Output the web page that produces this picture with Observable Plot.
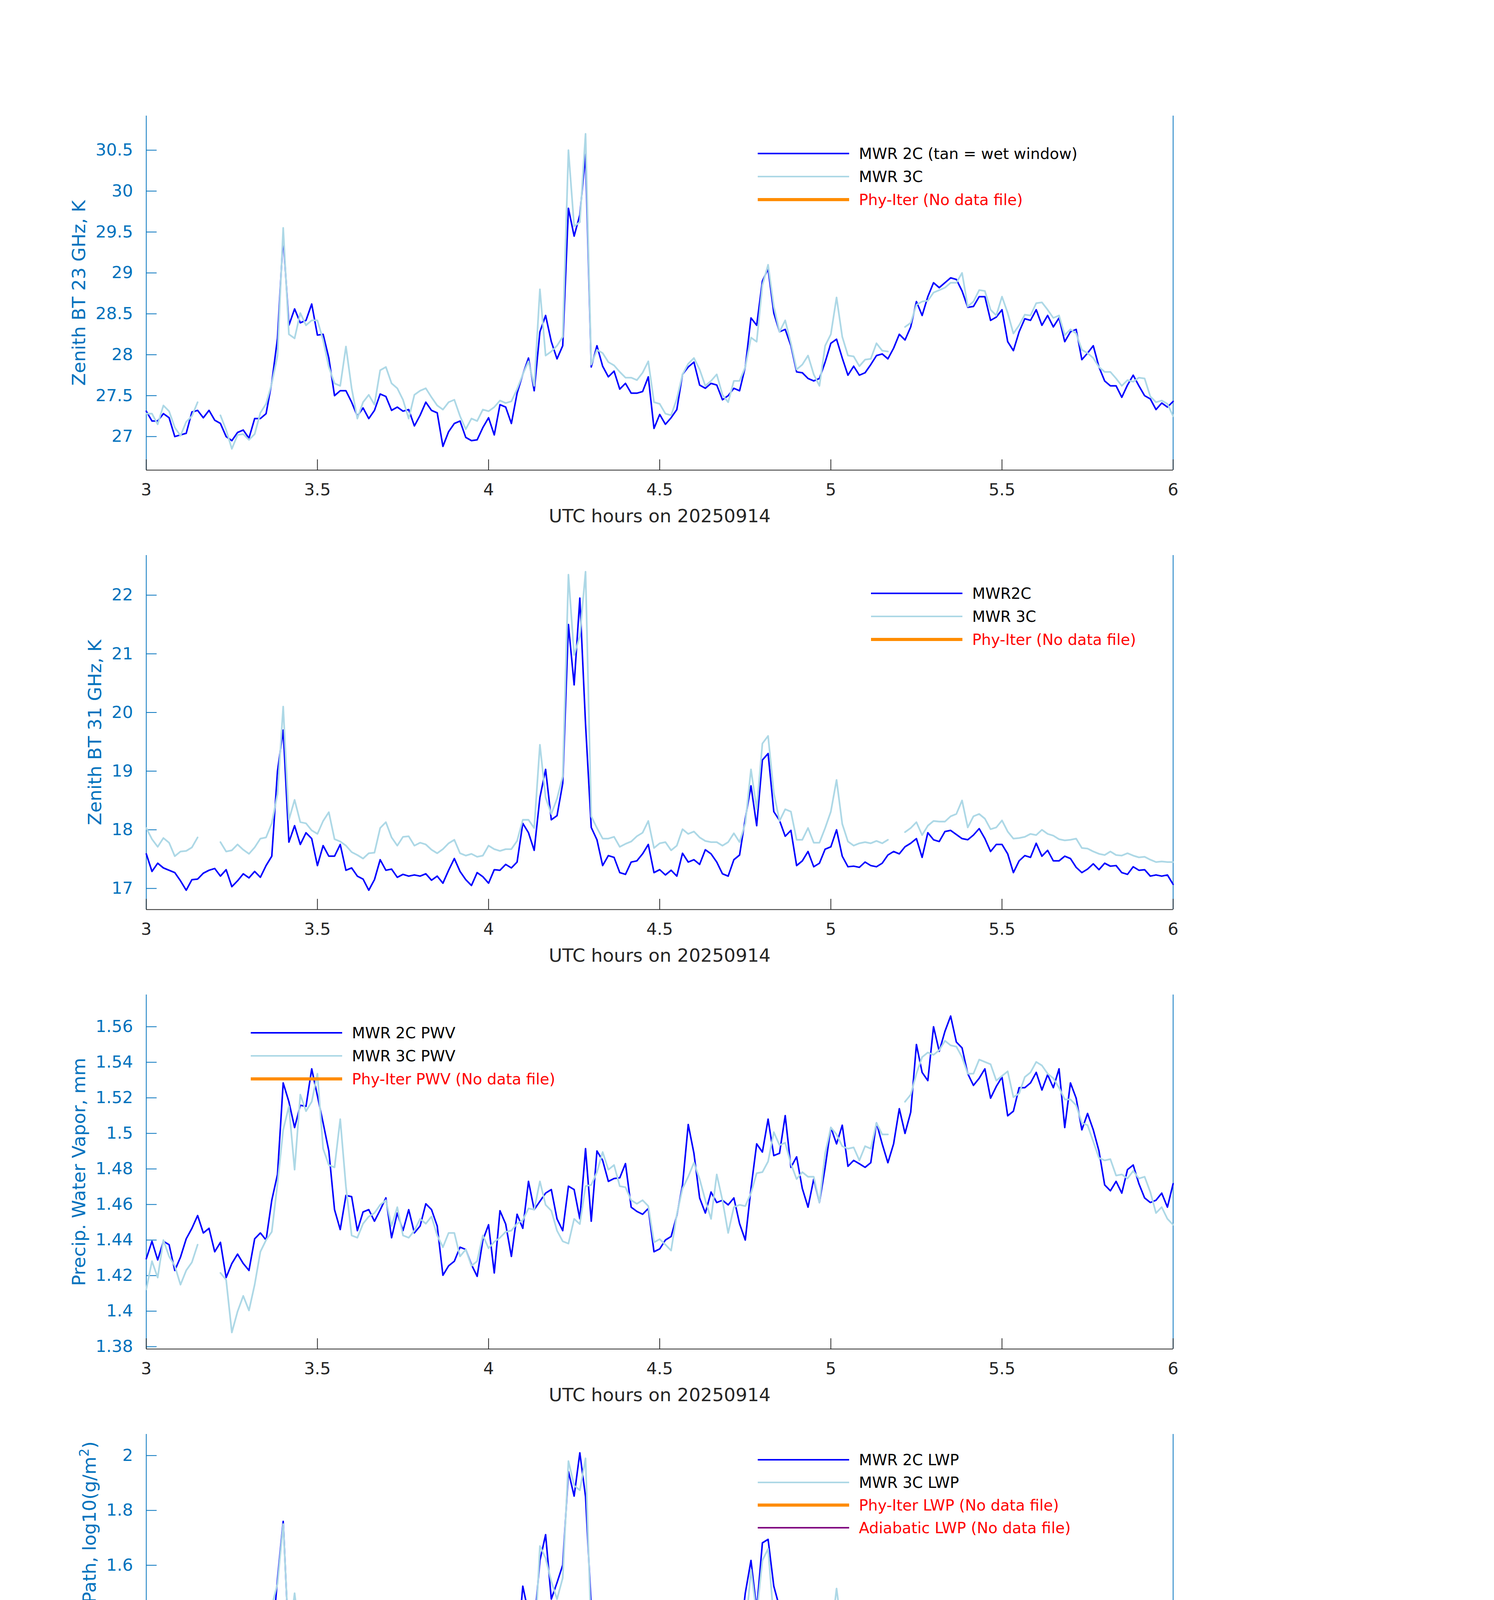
<!DOCTYPE html>
<html>
<head>
<meta charset="utf-8">
<script src="https://cdn.jsdelivr.net/npm/d3@7"></script>
<script src="https://cdn.jsdelivr.net/npm/@observablehq/plot@0.6"></script>
<style>
html, body { margin: 0; padding: 0; background: #ffffff; }
#chart { width: 3825px; background: #ffffff; }
#chart svg { display: block; }
</style>
</head>
<body>
<div id="chart"></div>
<script>
// ---------------- DATA (1-minute samples from 3.00 to 6.00 UTC hours) ----------------
const hourTicks = [3, 3.5, 4, 4.5, 5, 5.5, 6];
const xLabel = "UTC hours on 20250914";

const bt23_2c = [27.31,27.19,27.19,27.28,27.23,27.0,27.02,27.04,27.3,27.32,
27.23,27.32,27.2,27.16,27.0,26.95,27.05,27.08,26.98,27.22,
27.22,27.28,27.66,28.2,29.45,28.36,28.56,28.39,28.42,28.62,
28.24,28.25,27.96,27.5,27.56,27.56,27.42,27.25,27.35,27.22,
27.32,27.52,27.49,27.32,27.36,27.31,27.33,27.13,27.26,27.42,
27.32,27.29,26.88,27.06,27.16,27.19,26.99,26.95,26.96,27.11,
27.23,27.02,27.39,27.36,27.16,27.53,27.76,27.96,27.56,28.28,
28.48,28.16,27.95,28.11,29.79,29.45,29.71,30.45,27.85,28.11,
27.86,27.73,27.8,27.58,27.65,27.53,27.53,27.55,27.73,27.1,
27.27,27.15,27.23,27.33,27.76,27.85,27.91,27.63,27.59,27.65,
27.63,27.45,27.5,27.59,27.56,27.85,28.45,28.36,28.9,29.05,
28.51,28.28,28.31,28.11,27.79,27.78,27.71,27.68,27.71,27.91,
28.14,28.19,27.96,27.75,27.86,27.75,27.78,27.88,27.99,28.01,
27.95,28.08,28.25,28.18,28.34,28.65,28.48,28.71,28.88,28.82,
28.88,28.94,28.92,28.78,28.58,28.59,28.71,28.71,28.42,28.46,
28.55,28.16,28.05,28.28,28.44,28.42,28.55,28.36,28.48,28.34,
28.45,28.16,28.28,28.31,27.94,28.02,28.11,27.85,27.68,27.62,
27.62,27.48,27.63,27.75,27.62,27.5,27.46,27.33,27.41,27.36,27.43];

const bt23_3c = [27.28,27.28,27.15,27.38,27.31,27.11,27.01,27.18,27.25,27.42,
NaN,NaN,NaN,27.26,27.08,26.85,27.02,27.03,26.96,27.03,
27.29,27.4,27.65,27.99,29.55,28.25,28.2,28.51,28.36,28.42,
28.42,28.18,27.85,27.65,27.62,28.1,27.59,27.22,27.42,27.51,
27.39,27.81,27.85,27.65,27.59,27.45,27.22,27.51,27.56,27.59,
27.48,27.38,27.33,27.42,27.45,27.25,27.09,27.22,27.19,27.33,
27.31,27.36,27.44,27.41,27.43,27.58,27.76,27.92,27.62,28.8,
27.99,28.04,28.11,28.22,30.5,29.57,29.62,30.7,27.88,28.06,
28.02,27.91,27.87,27.79,27.72,27.72,27.69,27.78,27.92,27.42,
27.4,27.28,27.26,27.46,27.76,27.89,27.96,27.82,27.62,27.68,
27.76,27.51,27.42,27.68,27.68,27.85,28.21,28.16,28.85,29.1,
28.59,28.28,28.42,28.14,27.82,27.88,27.99,27.76,27.62,28.11,
28.25,28.7,28.22,27.99,27.98,27.86,27.94,27.95,28.14,28.05,
28.04,NaN,NaN,28.34,28.39,28.61,28.65,28.66,28.76,28.79,
28.82,28.88,28.88,29.0,28.59,28.65,28.79,28.78,28.55,28.48,
28.71,28.51,28.26,28.36,28.49,28.48,28.63,28.64,28.55,28.45,
28.48,28.24,28.31,28.26,28.06,28.02,27.96,27.85,27.79,27.79,
27.71,27.62,27.69,27.67,27.72,27.71,27.49,27.42,27.44,27.4,27.25];

const bt31_2c = [17.59,17.29,17.43,17.35,17.31,17.27,17.13,16.97,17.15,17.16,
17.26,17.31,17.34,17.21,17.32,17.03,17.13,17.25,17.18,17.29,
17.19,17.39,17.55,19.0,19.7,17.79,18.07,17.75,17.95,17.85,
17.39,17.73,17.55,17.55,17.75,17.31,17.35,17.21,17.16,16.97,
17.15,17.49,17.31,17.33,17.19,17.24,17.21,17.23,17.21,17.25,
17.14,17.21,17.09,17.31,17.51,17.29,17.15,17.05,17.27,17.2,
17.09,17.32,17.31,17.41,17.35,17.45,18.11,17.95,17.65,18.55,
19.03,18.17,18.24,18.79,21.5,20.47,21.95,19.8,18.04,17.83,
17.39,17.56,17.53,17.27,17.24,17.45,17.47,17.59,17.75,17.27,
17.32,17.23,17.31,17.21,17.6,17.45,17.49,17.41,17.66,17.59,
17.45,17.25,17.21,17.49,17.57,18.19,18.75,18.07,19.19,19.3,
18.31,18.16,17.89,17.99,17.39,17.47,17.63,17.37,17.43,17.67,
17.71,18.0,17.55,17.37,17.38,17.36,17.45,17.39,17.37,17.43,
17.57,17.63,17.59,17.71,17.77,17.85,17.53,17.95,17.83,17.8,
17.97,17.99,17.92,17.85,17.83,17.91,18.02,17.85,17.63,17.75,
17.75,17.59,17.27,17.47,17.56,17.53,17.77,17.55,17.65,17.47,
17.47,17.55,17.51,17.36,17.27,17.33,17.42,17.32,17.43,17.38,
17.39,17.27,17.24,17.37,17.31,17.32,17.21,17.23,17.21,17.23,17.07];

const bt31_3c = [18.03,17.84,17.71,17.86,17.78,17.55,17.63,17.64,17.7,17.87,
NaN,NaN,NaN,17.79,17.63,17.65,17.75,17.66,17.59,17.7,
17.85,17.87,18.11,18.61,20.1,18.17,18.51,18.13,18.11,17.99,
17.93,18.15,18.3,17.84,17.8,17.73,17.62,17.57,17.51,17.6,
17.61,18.03,18.13,17.87,17.73,17.88,17.89,17.73,17.78,17.75,
17.66,17.6,17.67,17.77,17.83,17.6,17.56,17.59,17.54,17.56,
17.73,17.67,17.64,17.67,17.67,17.81,18.17,18.17,18.03,19.45,
18.55,18.27,18.53,18.91,22.35,20.98,21.3,22.4,18.23,18.03,
17.85,17.85,17.88,17.71,17.76,17.8,17.89,17.95,18.15,17.69,
17.77,17.79,17.65,17.73,18.01,17.93,17.97,17.87,17.81,17.79,
17.79,17.73,17.79,17.94,17.79,18.11,19.03,18.35,19.47,19.6,
18.63,18.15,18.35,18.31,17.83,17.83,18.03,17.78,17.78,18.03,
18.31,18.85,18.1,17.8,17.73,17.77,17.79,17.77,17.81,17.77,
17.83,NaN,NaN,17.96,18.03,18.13,17.91,18.07,18.15,18.14,
18.14,18.23,18.27,18.5,18.04,18.23,18.27,18.19,18.01,18.04,
18.16,17.97,17.85,17.86,17.88,17.93,17.91,18.0,17.93,17.9,
17.84,17.82,17.83,17.85,17.69,17.68,17.63,17.59,17.57,17.63,
17.57,17.56,17.6,17.56,17.53,17.54,17.49,17.45,17.46,17.45,17.45];

const pwv_2c = [1.4295,1.4393,1.4288,1.4393,1.4374,1.4229,1.4304,1.4407,1.4466,1.4538,
1.444,1.4466,1.4334,1.4387,1.4189,1.4268,1.4321,1.4268,1.4229,1.4407,
1.444,1.44,1.4624,1.4769,1.5284,1.5178,1.5033,1.5158,1.5152,1.5363,
1.5211,1.5059,1.4901,1.4571,1.4459,1.4651,1.4644,1.4453,1.4558,1.4571,
1.4506,1.4569,1.4637,1.4413,1.4552,1.4453,1.4571,1.444,1.4479,1.4604,
1.4571,1.4479,1.4202,1.4255,1.4281,1.436,1.4347,1.4262,1.4196,1.44,
1.4486,1.4215,1.4565,1.449,1.4308,1.4545,1.4466,1.473,1.4571,1.4618,
1.4664,1.4684,1.4519,1.4453,1.4703,1.4684,1.4519,1.4914,1.4506,1.4901,
1.4848,1.473,1.4746,1.475,1.483,1.4585,1.4561,1.4545,1.4578,1.4334,
1.435,1.44,1.442,1.4538,1.471,1.505,1.4888,1.4637,1.4552,1.467,
1.4611,1.4624,1.4598,1.4637,1.4492,1.44,1.469,1.4941,1.4895,1.508,
1.4875,1.4888,1.51,1.4809,1.4868,1.469,1.4585,1.4743,1.4611,1.4809,
1.5033,1.4941,1.5046,1.4815,1.4848,1.4829,1.4809,1.4835,1.5059,1.4941,
1.4835,1.4941,1.5139,1.5,1.5119,1.55,1.5343,1.5297,1.56,1.5462,
1.5574,1.566,1.5514,1.5481,1.5336,1.527,1.531,1.5363,1.5198,1.5264,
1.5317,1.5099,1.5125,1.5257,1.5257,1.5284,1.5343,1.5244,1.533,1.5257,
1.5363,1.5033,1.5284,1.5198,1.502,1.5112,1.502,1.4901,1.471,1.4677,
1.473,1.4664,1.4796,1.4822,1.4717,1.4637,1.4611,1.4624,1.4664,1.4585,1.4717];

const pwv_3c = [1.4123,1.4281,1.4189,1.44,1.4308,1.4255,1.4149,1.4229,1.4275,1.4374,
NaN,NaN,NaN,1.4215,1.4176,1.388,1.3998,1.4086,1.4004,1.4149,
1.4334,1.44,1.4446,1.4717,1.502,1.5152,1.4796,1.5218,1.5125,1.5178,
1.5336,1.4914,1.4822,1.4809,1.508,1.47,1.4426,1.4413,1.4492,1.4532,
1.4552,1.4598,1.4624,1.4479,1.4585,1.4426,1.4413,1.4453,1.4519,1.4492,
1.4532,1.4426,1.436,1.444,1.444,1.4308,1.4347,1.4255,1.4281,1.4426,
1.4354,1.439,1.4413,1.4446,1.4453,1.4492,1.4512,1.4578,1.4571,1.473,
1.4598,1.4565,1.4453,1.4393,1.438,1.4519,1.449,1.4703,1.471,1.4782,
1.4895,1.4796,1.4822,1.4703,1.4697,1.4624,1.4604,1.4624,1.4591,1.4387,
1.4405,1.4374,1.4341,1.4545,1.469,1.4756,1.4835,1.4743,1.4624,1.4519,
1.4769,1.4624,1.444,1.4585,1.4598,1.4591,1.4664,1.4776,1.4782,1.4842,
1.5007,1.4934,1.4947,1.4829,1.4743,1.4782,1.4756,1.4756,1.4611,1.4888,
1.5033,1.4994,1.4928,1.4914,1.4921,1.4848,1.4928,1.4914,1.5059,1.4994,
1.4994,NaN,NaN,1.5178,1.5218,1.5336,1.5429,1.5455,1.5442,1.5468,
1.5521,1.5495,1.5488,1.5429,1.5336,1.5336,1.5415,1.5402,1.5389,1.5297,
1.5323,1.5349,1.5204,1.5224,1.5317,1.5343,1.5402,1.5382,1.5336,1.531,
1.5257,1.5191,1.5191,1.5158,1.5059,1.5046,1.4954,1.4862,1.4848,1.4855,
1.4763,1.4769,1.4746,1.4789,1.4746,1.4756,1.467,1.4552,1.4585,1.4519,1.4486];

const lwp_2c = [1.3445,1.225,1.3317,1.2677,1.2677,1.2805,1.2062,1.08,1.1781,1.1311,
1.225,1.2421,1.2762,1.2079,1.3018,1.1482,1.1866,1.2549,1.2165,1.2506,
1.1439,1.2762,1.3061,1.55,1.76,1.3061,1.4469,1.2677,1.336,1.225,
1.0629,1.2933,1.2464,1.3104,1.4256,1.1909,1.2293,1.1866,1.1141,0.91,
1.1482,1.3018,1.1994,1.2464,1.1354,1.1952,1.1653,1.2037,1.1824,1.1141,
1.1269,1.1738,1.1866,1.2848,1.3018,1.2523,1.1738,1.1311,1.272,1.2079,
1.1226,1.289,1.2208,1.2805,1.2336,1.2805,1.5237,1.4256,1.3786,1.6176,
1.7115,1.4768,1.5365,1.6005,1.9419,1.8523,2.01,1.85,1.4469,1.3616,
1.12,1.2677,1.2575,1.161,1.1482,1.2779,1.2805,1.3274,1.3701,1.2421,
1.25,1.2592,1.2506,1.1909,1.3018,1.225,1.05,1.2378,1.3573,1.2762,
1.2378,1.1738,1.36,1.2677,1.3146,1.4981,1.6176,1.4384,1.6816,1.6944,
1.5237,1.4469,1.3317,1.4128,1.1653,1.2677,1.3786,1.1824,1.2122,1.353,
1.2762,1.3659,1.2079,1.1994,1.1781,1.1824,1.2122,1.1909,1.1226,1.1824,
1.2336,1.2592,1.1952,1.2933,1.2848,1.2677,1.1738,1.397,1.2677,1.2506,
1.2549,1.3104,1.2848,1.2592,1.2592,1.3274,1.3573,1.2805,1.2421,1.225,
1.2464,1.2421,1.0671,1.1397,1.155,1.1482,1.2421,1.1738,1.2011,1.1055,
1.0714,1.2421,1.097,0.85,1.0373,1.0714,1.1781,1.1397,1.225,1.2208,
1.1994,1.1653,1.1226,1.1781,1.1653,1.2037,1.1525,1.1738,1.1311,1.1738,1.0117];

const lwp_3c = [1.3701,1.3701,1.3701,1.3957,1.353,1.2421,1.2549,1.2464,1.2592,1.2933,
NaN,NaN,NaN,1.2592,1.2677,1.2976,1.3189,1.2762,1.272,1.336,
1.4256,1.4085,1.4512,1.5323,1.75,1.3189,1.4981,1.3274,1.2293,1.1824,
1.1696,1.3189,1.3274,1.3616,1.4256,1.2079,1.1568,1.1482,1.1397,1.1824,
1.1824,1.3317,1.2592,1.2336,1.225,1.3061,1.3061,1.2293,1.2549,1.2336,
1.2148,1.2293,1.2378,1.2336,1.266,1.2378,1.2319,1.2336,1.2293,1.2122,
1.2097,1.2378,1.2165,1.2319,1.1994,1.2208,1.3744,1.3701,1.2762,1.67,
1.6262,1.5408,1.4768,1.5536,1.98,1.8907,1.8736,1.99,1.3445,1.3787,
1.2165,1.2336,1.2293,1.2079,1.2148,1.225,1.2464,1.2677,1.3402,1.2079,
1.2336,1.2079,1.2208,1.2079,1.2805,1.34,1.2421,1.2336,1.2506,1.2421,
1.2165,1.1994,1.2592,1.295,1.2805,1.353,1.5835,1.4213,1.6176,1.66,
1.4,1.3915,1.3232,1.353,1.2336,1.2634,1.3445,1.2208,1.1994,1.2677,
1.336,1.5152,1.353,1.1738,1.161,1.1824,1.1568,1.1824,1.1636,1.1354,
1.1653,NaN,NaN,1.1738,1.2378,1.2233,1.1055,1.225,1.1824,1.2037,
1.2208,1.2293,1.2677,1.3189,1.1994,1.272,1.272,1.2677,1.1653,1.1738,
1.2037,1.1738,1.1013,1.1055,1.1184,1.097,1.1072,1.1354,1.1184,1.1124,
1.0927,1.0953,1.0885,1.1098,1.0586,1.0714,1.0885,1.0612,1.0543,1.0697,
1.0629,1.0526,1.0671,1.039,1.0629,1.039,1.0526,1.0458,1.039,1.0458,1.0799];

// tick values per panel
const ticks23 = [27, 27.5, 28, 28.5, 29, 29.5, 30, 30.5];
const ticks31 = [17, 18, 19, 20, 21, 22];
const ticksPwv = [1.38, 1.4, 1.42, 1.44, 1.46, 1.48, 1.5, 1.52, 1.54, 1.56];
const ticksLwp = [0.8, 1, 1.2, 1.4, 1.6, 1.8, 2];
const ticksFlag = [0, 2, 4, 6, 8, 10];

// legend entries per panel
const legend23 = ["MWR 2C (tan = wet window)", "MWR 3C", "Phy-Iter (No data file)"];
const legend31 = ["MWR2C", "MWR 3C", "Phy-Iter (No data file)"];
const legendPwv = ["MWR 2C PWV", "MWR 3C PWV", "Phy-Iter PWV (No data file)"];
const legendLwp = ["MWR 2C LWP", "MWR 3C LWP", "Phy-Iter LWP (No data file)", "Adiabatic LWP (No data file)"];

// ---------------- STYLE / LAYOUT ----------------
const FONT = "DejaVu Sans";
const W = 3825, ML = 374, MR = 822, FRAME_H = 907, BELOW = 218, TOP0 = 296, LAST_BOTTOM = 297;
const TICK_LEN = 27;
const AXIS_BLUE = "#0072BD", AXIS_DARK = "#262626";
const C2 = "#0000FF", C3 = "#ADD8E6", CORANGE = "#FF8C00", CPURPLE = "#800080";
const entryStyles = [
  {stroke: C2, sw: 4, fill: "#000000"},
  {stroke: C3, sw: 4, fill: "#000000"},
  {stroke: CORANGE, sw: 8, fill: "#FF0000"},
  {stroke: CPURPLE, sw: 4, fill: "#FF0000"}
];

const panels = [
  {domain: [26.59, 30.92], ticks: ticks23, label: ["Zenith BT 23 GHz, K"], s2: bt23_2c, s3: bt23_3c,
   legend: legend23, lg: {dx: 1566, dy: 97, step: 59}},
  {domain: [16.64, 22.68], ticks: ticks31, label: ["Zenith BT 31 GHz, K"], s2: bt31_2c, s3: bt31_3c,
   legend: legend31, lg: {dx: 1856, dy: 98, step: 59}},
  {domain: [1.3787, 1.578], ticks: ticksPwv, label: ["Precip. Water Vapor, mm"], s2: pwv_2c, s3: pwv_3c,
   legend: legendPwv, lg: {dx: 268, dy: 98, step: 59}},
  {domain: [0.786, 2.078], ticks: ticksLwp, label: ["log10 Liquid Water Path, log10(g/m", "2", ")"], s2: lwp_2c, s3: lwp_3c,
   legend: legendLwp, lg: {dx: 1566, dy: 66, step: 58}},
  {domain: [-0.5, 11.5], ticks: ticksFlag, label: ["MWR Phy Iter DQ Flag"], s2: null, s3: null,
   legend: null, lg: null}
];

const ctx = document.createElement("canvas").getContext("2d");
ctx.font = `43px "${FONT}"`;

function legendMark(entries, lg) {
  return (index, scales, values, dims) => {
    const g = d3.create("svg:g");
    const x0 = dims.marginLeft + lg.dx;
    entries.forEach((label, k) => {
      const st = entryStyles[k];
      const y = dims.marginTop + lg.dy + k * lg.step;
      g.append("line").attr("x1", x0).attr("x2", x0 + 234).attr("y1", y).attr("y2", y)
        .attr("stroke", st.stroke).attr("stroke-width", st.sw);
      g.append("text").attr("x", x0 + 259).attr("y", y).attr("dy", "0.35em")
        .attr("text-anchor", "start")
        .attr("fill", st.fill).attr("font-size", 39).attr("font-family", FONT).text(label);
    });
    return g.node();
  };
}

const chart = document.getElementById("chart");
const plotW = W - ML - MR;

panels.forEach((p, i) => {
  const mt = i === 0 ? TOP0 : 0;
  const mb = i === panels.length - 1 ? LAST_BOTTOM : BELOW;
  const span = p.domain[1] - p.domain[0];
  const labelText = p.label.join("");
  const maxTickW = d3.max(p.ticks, t => ctx.measureText(String(t)).width);
  const labelDx = 34 + maxTickW + 42;

  const marks = [
    Plot.ruleX([3], {stroke: AXIS_BLUE, strokeWidth: 2}),
    Plot.ruleX([6], {stroke: AXIS_BLUE, strokeWidth: 2}),
    Plot.ruleY(p.ticks, {x1: 3, x2: 3 + TICK_LEN / plotW * 3, stroke: AXIS_BLUE, strokeWidth: 2}),
    Plot.ruleX(hourTicks, {y1: p.domain[0], y2: p.domain[0] + TICK_LEN / FRAME_H * span, stroke: AXIS_DARK, strokeWidth: 2})
  ];
  if (p.s2) marks.push(Plot.lineY(p.s2, {x: (d, k) => 3 + k / 60, y: d => d, stroke: C2, strokeWidth: 4}));
  if (p.s3) marks.push(Plot.lineY(p.s3, {x: (d, k) => 3 + k / 60, y: d => d, stroke: C3, strokeWidth: 4.3}));
  marks.push(Plot.ruleY([p.domain[0]], {stroke: AXIS_DARK, strokeWidth: 2}));
  marks.push(Plot.axisY(p.ticks, {tickSize: 0, tickPadding: 34, fill: AXIS_BLUE, fontSize: 43, tickFormat: d => String(d), label: null}));
  marks.push(Plot.axisX(hourTicks, {tickSize: 0, tickPadding: 34, fill: AXIS_DARK, fontSize: 43, tickFormat: d => String(d), label: null}));
  marks.push(Plot.text([labelText], {frameAnchor: "left", dx: -labelDx, rotate: -90, text: d => d,
    fill: AXIS_BLUE, fontSize: 47, textAnchor: "middle", lineAnchor: "middle"}));
  marks.push(Plot.text([xLabel], {frameAnchor: "bottom", dy: 118, text: d => d,
    fill: AXIS_DARK, fontSize: 47, textAnchor: "middle", lineAnchor: "middle"}));
  if (p.legend) marks.push(legendMark(p.legend, p.lg));

  const svg = Plot.plot({
    width: W,
    height: mt + FRAME_H + mb,
    marginTop: mt,
    marginBottom: mb,
    marginLeft: ML,
    marginRight: MR,
    x: {domain: [3, 6]},
    y: {domain: p.domain},
    style: {fontFamily: FONT, fontSize: "43px", background: "#ffffff", overflow: "visible"},
    marks
  });

  if (p.label.length > 1) {
    const el = d3.select(svg).selectAll("text").filter(function () { return this.textContent === labelText; });
    el.text(null);
    el.append("tspan").text(p.label[0]);
    el.append("tspan").attr("dy", -18).attr("font-size", 33).text(p.label[1]);
    el.append("tspan").attr("dy", 18).text(p.label[2]);
  }
  chart.appendChild(svg);
});
</script>
</body>
</html>
